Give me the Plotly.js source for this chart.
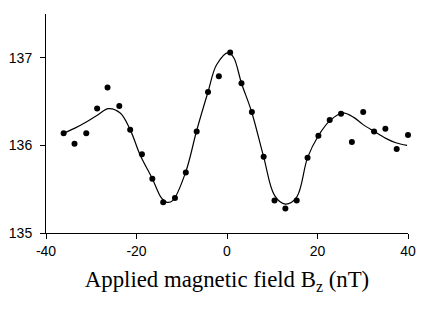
<!DOCTYPE html>
<html>
<head>
<meta charset="utf-8">
<script src="https://cdn.plot.ly/plotly-3.0.1.min.js"></script>
<style>html,body{margin:0;padding:0;background:#fff;}#chart{width:430px;height:312px;}</style>
</head>
<body>
<div id="chart"></div>
<script>
// Measured data points
var fieldX = [-36.1,-33.7,-31.1,-28.7,-26.4,-23.8,-21.4,-18.8,-16.5,-14.1,-11.5,-9.1,-6.7,-4.2,-1.8,0.7,3.2,5.5,8.1,10.5,12.9,15.4,17.8,20.2,22.7,25.2,27.6,30.1,32.5,35.0,37.5,40.0];
var signalY = [136.14,136.02,136.14,136.42,136.66,136.45,136.18,135.90,135.62,135.35,135.40,135.69,136.16,136.61,136.79,137.06,136.71,136.38,135.87,135.37,135.28,135.37,135.86,136.11,136.29,136.36,136.04,136.38,136.16,136.19,135.96,136.12];
// Fitted curve
var fitX = [-36.1,-33.5,-31,-28.5,-26.2,-23.6,-21.4,-19.2,-16.5,-14.5,-13.3,-12,-9.1,-6.7,-4.2,-2.3,0.3,1.5,3.2,5.4,8.1,10.5,12.9,15.4,17.8,20.2,22.7,25.5,28,30,32.5,35.1,37.3,39.8];
var fitY = [136.14,136.20,136.27,136.35,136.42,136.37,136.18,135.89,135.62,135.40,135.35,135.37,135.70,136.17,136.61,136.92,137.06,137.00,136.71,136.39,135.87,135.43,135.33,135.41,135.86,136.11,136.28,136.37,136.32,136.24,136.16,136.08,136.03,136.00];
var xTickVals = [-40,-20,0,20,40];
var xTickText = ['-40','-20','0','20','40'];
var yTickVals = [135,136,137];
var yTickText = ['135','136','137'];

var traces = [
  {x: fitX, y: fitY, type: 'scatter', mode: 'lines', line: {color: '#000', width: 1.2, shape: 'spline', smoothing: 1}, hoverinfo: 'skip', cliponaxis: false},
  {x: fieldX, y: signalY, type: 'scatter', mode: 'markers', marker: {color: '#000', size: 6}, cliponaxis: false}
];
var layout = {
  width: 430, height: 312,
  margin: {l: 46, r: 22, t: 14, b: 79, pad: 0},
  showlegend: false,
  paper_bgcolor: '#fff', plot_bgcolor: '#fff',
  xaxis: {
    range: [-40, 40], showgrid: false, zeroline: false, showline: true, linecolor: '#000', linewidth: 1,
    ticks: 'outside', ticklen: 5, tickcolor: '#000', tickwidth: 1,
    tickvals: xTickVals, ticktext: xTickText,
    tickfont: {family: 'Liberation Sans, Arial, sans-serif', size: 14, color: '#000'},
    title: {text: 'Applied magnetic field B<sub>z</sub> (nT)', font: {family: 'Liberation Serif, Times New Roman, serif', size: 22.8, color: '#000'}, standoff: 13}
  },
  yaxis: {
    range: [135, 137.5], showgrid: false, zeroline: false, showline: true, linecolor: '#000', linewidth: 1,
    ticks: 'outside', ticklen: 5, tickcolor: '#000', tickwidth: 1,
    tickvals: yTickVals, ticktext: yTickText, ticklabelstandoff: 5,
    tickfont: {family: 'Liberation Sans, Arial, sans-serif', size: 14, color: '#000'}
  }
};
Plotly.newPlot('chart', traces, layout, {displayModeBar: false, staticPlot: true});
</script>
</body>
</html>
